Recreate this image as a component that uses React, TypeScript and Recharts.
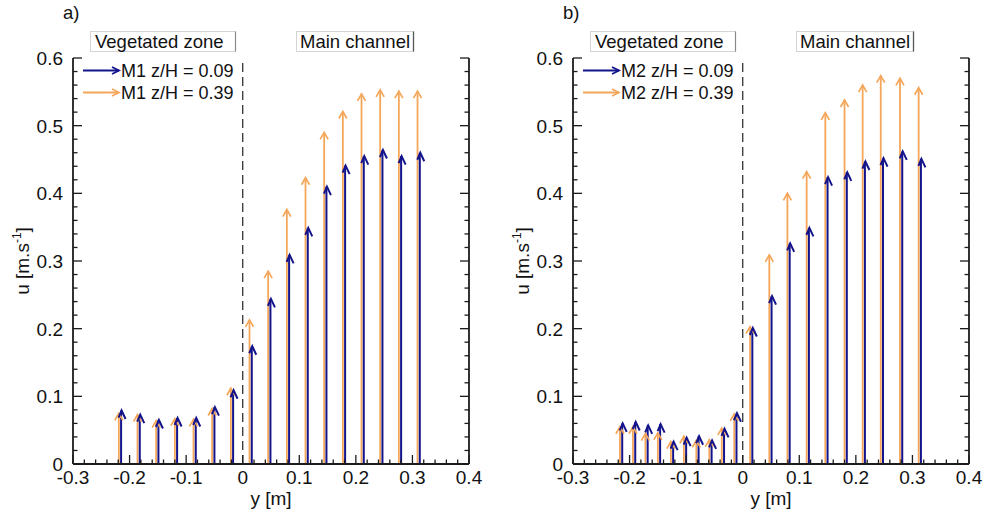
import React from 'react';
import { ComposedChart, Scatter, ErrorBar, XAxis, YAxis, ReferenceLine } from 'recharts';

// Axis tick labels
const xTickLabels = [-0.3, -0.2, -0.1, 0, 0.1, 0.2, 0.3, 0.4];
const yTickLabels = [0, 0.1, 0.2, 0.3, 0.4, 0.5, 0.6];

// M1 — lateral positions y [m] and streamwise velocity u [m/s]
const m1LowPos = [-0.215, -0.182, -0.149, -0.116, -0.083, -0.05, -0.017, 0.016, 0.049, 0.082, 0.115, 0.148, 0.181, 0.214, 0.247, 0.28, 0.313];
const m1LowU = [0.079, 0.073, 0.065, 0.068, 0.068, 0.084, 0.109, 0.174, 0.244, 0.309, 0.349, 0.41, 0.441, 0.455, 0.464, 0.455, 0.46];
const m1HighPos = [-0.219, -0.186, -0.153, -0.12, -0.087, -0.054, -0.021, 0.012, 0.045, 0.078, 0.111, 0.144, 0.177, 0.21, 0.243, 0.276, 0.309];
const m1HighU = [0.075, 0.073, 0.064, 0.067, 0.066, 0.082, 0.112, 0.213, 0.285, 0.376, 0.423, 0.49, 0.521, 0.547, 0.553, 0.551, 0.551];

// M2 — lateral positions y [m] and streamwise velocity u [m/s]
const m2LowPos = [-0.213, -0.19, -0.168, -0.146, -0.123, -0.1, -0.078, -0.055, -0.033, -0.011, 0.017, 0.051, 0.083, 0.117, 0.15, 0.184, 0.216, 0.248, 0.282, 0.315];
const m2LowU = [0.06, 0.062, 0.057, 0.059, 0.033, 0.039, 0.041, 0.035, 0.052, 0.075, 0.201, 0.248, 0.326, 0.349, 0.424, 0.431, 0.447, 0.452, 0.462, 0.451];
const m2HighPos = [-0.217, -0.194, -0.172, -0.15, -0.127, -0.104, -0.082, -0.059, -0.037, -0.015, 0.013, 0.047, 0.079, 0.113, 0.146, 0.18, 0.212, 0.244, 0.278, 0.311];
const m2HighU = [0.055, 0.055, 0.045, 0.046, 0.033, 0.041, 0.035, 0.036, 0.053, 0.074, 0.203, 0.309, 0.4, 0.432, 0.519, 0.538, 0.56, 0.574, 0.57, 0.556];

const NAVY = '#13138c';
const ORANGE = '#f4a65a';
const AXIS = '#1c1c1c';
const FONT = '"Liberation Sans", Arial, Helvetica, sans-serif';

type Row = { y: number; u: number; span: [number, number] };

// each arrow starts at u = 0 and ends at the measured velocity
const buildRows = (pos: number[], u: number[]): Row[] =>
  pos.map((p, i) => ({ y: p, u: u[i], span: [u[i], 0] }));

// major ticks plus four minor subdivisions between them
const withMinor = (major: number[]) => {
  const out: number[] = [];
  for (let i = 0; i < major.length; i++) {
    out.push(major[i]);
    if (i < major.length - 1) {
      const step = (major[i + 1] - major[i]) / 5;
      for (let k = 1; k < 5; k++) out.push(Math.round((major[i] + k * step) * 1000) / 1000);
    }
  }
  return out;
};

const xTicks = withMinor(xTickLabels);
const yTicks = withMinor(yTickLabels);

const isMajor = (v: number) => Math.abs(v * 10 - Math.round(v * 10)) < 1e-6;
const fmt = (v: number) => (Math.abs(v) < 1e-9 ? '0' : String(Math.round(v * 10) / 10));

const BottomTick = (props: any) => {
  const { x, y, payload } = props;
  const major = isMajor(payload.value);
  return (
    <g>
      <line x1={x} x2={x} y1={y} y2={y - (major ? 9 : 4.5)} stroke={AXIS} strokeWidth={1.3} />
      {major && (
        <text x={x} y={y + 19.5} textAnchor="middle" fontSize={19} fontFamily={FONT} fill="#111">
          {fmt(payload.value)}
        </text>
      )}
    </g>
  );
};

const LeftTick = (props: any) => {
  const { x, y, payload } = props;
  const major = isMajor(payload.value);
  return (
    <g>
      <line x1={x} x2={x + (major ? 9 : 4.5)} y1={y} y2={y} stroke={AXIS} strokeWidth={1.3} />
      {major && (
        <text x={x - 10} y={y} dy="0.36em" textAnchor="end" fontSize={19} fontFamily={FONT} fill="#111">
          {fmt(payload.value)}
        </text>
      )}
    </g>
  );
};

const RightTick = (props: any) => {
  const { x, y, payload } = props;
  const major = isMajor(payload.value);
  return <line x1={x} x2={x - (major ? 9 : 4.5)} y1={y} y2={y} stroke={AXIS} strokeWidth={1.3} />;
};

const OrangeHead = (props: any) => {
  const { cx, cy } = props;
  return (
    <path
      d={`M${cx - 4},${cy + 7} L${cx},${cy} L${cx + 4},${cy + 7}`}
      stroke={ORANGE}
      strokeWidth={1.7}
      fill="none"
      strokeLinejoin="miter"
    />
  );
};

const NavyHead = (props: any) => {
  const { cx, cy } = props;
  return (
    <path
      d={`M${cx - 2.5},${cy + 7} L${cx + 0.5},${cy} L${cx + 4.5},${cy + 8.5}`}
      stroke={NAVY}
      strokeWidth={2}
      fill="none"
    />
  );
};

const XLabel = (props: any) => {
  const vb = props.viewBox || {};
  return (
    <text x={vb.x + vb.width / 2} y={vb.y + 41} textAnchor="middle" fontSize={19} fontFamily={FONT} fill="#111">
      y [m]
    </text>
  );
};

const YLabel = (props: any) => {
  const vb = props.viewBox || {};
  const cx = vb.x + 16;
  const cy = vb.y + vb.height / 2;
  return (
    <text
      x={cx}
      y={cy}
      transform={`rotate(-90, ${cx}, ${cy})`}
      textAnchor="middle"
      fontSize={19}
      fontFamily={FONT}
      fill="#111"
    >
      <tspan>u [m.s</tspan>
      <tspan dy={-8} fontSize={12}>-1</tspan>
      <tspan dy={8}>]</tspan>
    </text>
  );
};

type PanelProps = { low: Row[]; high: Row[]; left: number };

const Panel = ({ low, high, left }: PanelProps) => (
  <div style={{ position: 'absolute', left, top: 0 }}>
    <ComposedChart width={500} height={519} margin={{ top: 58, right: 21, bottom: 15, left: 13 }}>
      <XAxis
        dataKey="y"
        type="number"
        domain={[-0.3, 0.4]}
        ticks={xTicks}
        interval={0}
        allowDataOverflow
        height={40}
        tickSize={0}
        tickMargin={0}
        tickLine={false}
        tick={BottomTick}
        axisLine={{ stroke: AXIS, strokeWidth: 1.8 }}
        label={<XLabelWrap />}
      />
      <XAxis
        xAxisId="top"
        orientation="top"
        dataKey="y"
        type="number"
        domain={[-0.3, 0.4]}
        allowDataOverflow
        height={0}
        tick={false}
        tickLine={false}
        axisLine={{ stroke: AXIS, strokeWidth: 1.8 }}
      />
      <YAxis
        dataKey="u"
        type="number"
        domain={[0, 0.6]}
        ticks={yTicks}
        interval={0}
        allowDataOverflow
        width={60}
        tickSize={0}
        tickMargin={0}
        tickLine={false}
        tick={LeftTick}
        axisLine={{ stroke: AXIS, strokeWidth: 1.8 }}
        label={<YLabelWrap />}
      />
      <YAxis
        yAxisId="right"
        orientation="right"
        dataKey="u"
        type="number"
        domain={[0, 0.6]}
        ticks={yTicks}
        interval={0}
        allowDataOverflow
        width={10}
        tickSize={0}
        tickMargin={0}
        tickLine={false}
        tick={RightTick}
        axisLine={{ stroke: AXIS, strokeWidth: 1.8 }}
      />
      <ReferenceLine x={0} stroke="#333" strokeWidth={1.3} strokeDasharray="9 5" />
      <Scatter data={high} dataKey="u" fill={ORANGE} shape={OrangeHead} isAnimationActive={false}>
        <ErrorBar dataKey="span" direction="y" width={0} stroke={ORANGE} strokeWidth={1.8} isAnimationActive={false} />
      </Scatter>
      <Scatter data={low} dataKey="u" fill={NAVY} shape={NavyHead} isAnimationActive={false}>
        <ErrorBar dataKey="span" direction="y" width={0} stroke={NAVY} strokeWidth={2} isAnimationActive={false} />
      </Scatter>
    </ComposedChart>
  </div>
);

function XLabelWrap(props: any) {
  return <XLabel {...props} />;
}
function YLabelWrap(props: any) {
  return <YLabel {...props} />;
}

// panel captions, zone boxes and legends, laid over both plots
const Annotations = () => {
  const panels = [
    { dx: 0, tag: 'a)', name: 'M1' },
    { dx: 500, tag: 'b)', name: 'M2' },
  ];
  return (
    <svg width={993} height={519} style={{ position: 'absolute', left: 0, top: 0, pointerEvents: 'none' }}>
      {panels.map((p) => (
        <g key={p.tag} fontFamily={FONT} fill="#111">
          <text x={63 + p.dx} y={19} fontSize={18.5}>{p.tag}</text>
          <rect x={90.5 + p.dx} y={31.5} width={145} height={20} fill="#fff" stroke="#d4d4d4" strokeWidth={1} />
          <line x1={235.5 + p.dx} x2={235.5 + p.dx} y1={31.5} y2={51.5} stroke="#8a8a8a" strokeWidth={1.2} />
          <text x={95 + p.dx} y={47.5} fontSize={18.5}>Vegetated zone</text>
          <rect x={296.5 + p.dx} y={31.5} width={117} height={20} fill="#fff" stroke="#d4d4d4" strokeWidth={1} />
          <line x1={413.5 + p.dx} x2={413.5 + p.dx} y1={31.5} y2={51.5} stroke="#555" strokeWidth={1.3} />
          <text x={300 + p.dx} y={47.5} fontSize={18.5}>Main channel</text>

          <line x1={83 + p.dx} x2={119 + p.dx} y1={70.5} y2={70.5} stroke={NAVY} strokeWidth={2} />
          <path d={`M${112 + p.dx},67 L${119 + p.dx},70.5 L${112 + p.dx},74`} stroke={NAVY} strokeWidth={1.8} fill="none" />
          <text x={121 + p.dx} y={76.5} fontSize={18}>{`${p.name} z/H = 0.09`}</text>
          <line x1={83 + p.dx} x2={119 + p.dx} y1={92.5} y2={92.5} stroke={ORANGE} strokeWidth={1.8} />
          <path d={`M${112 + p.dx},89 L${119 + p.dx},92.5 L${112 + p.dx},96`} stroke={ORANGE} strokeWidth={1.6} fill="none" />
          <text x={121 + p.dx} y={98.5} fontSize={18}>{`${p.name} z/H = 0.39`}</text>
        </g>
      ))}
    </svg>
  );
};

export default function App() {
  return (
    <div style={{ position: 'absolute', left: 0, top: 0, width: 993, height: 519, background: '#fff' }}>
      <Panel low={buildRows(m1LowPos, m1LowU)} high={buildRows(m1HighPos, m1HighU)} left={0} />
      <Panel low={buildRows(m2LowPos, m2LowU)} high={buildRows(m2HighPos, m2HighU)} left={500} />
      <Annotations />
    </div>
  );
}
